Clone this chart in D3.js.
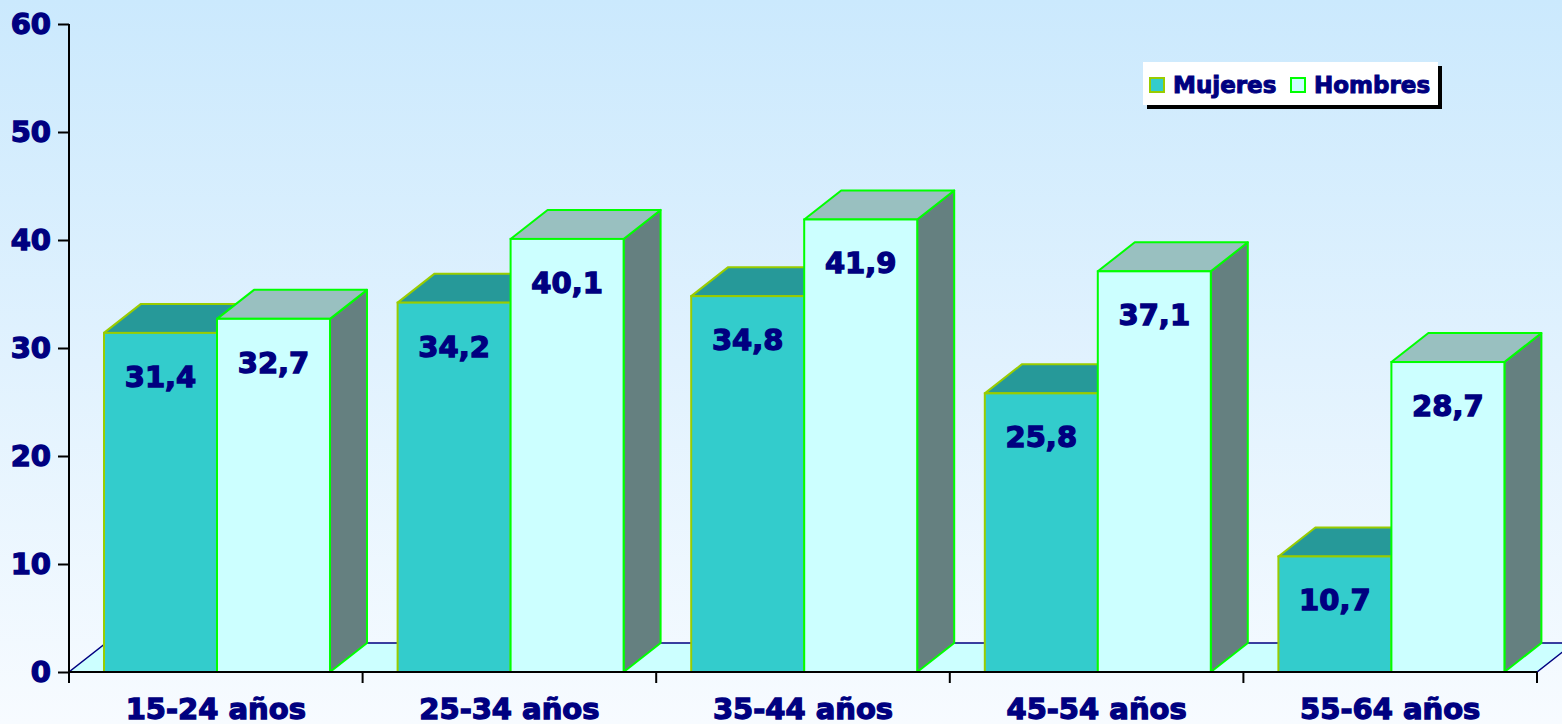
<!DOCTYPE html>
<html>
<head>
<meta charset="utf-8">
<script src="https://cdn.jsdelivr.net/npm/d3@7"></script>
<style>
  body { margin: 0; background: #fff; }
  svg { display: block; font-family: "DejaVu Sans", Verdana, sans-serif; font-weight: bold; }
  /* verdana bold is heavier than dejavu, so thicken the glyphs a little */
  .heavy { stroke: #000080; stroke-width: 1.3px; paint-order: fill stroke; }
</style>
</head>
<body>
<svg id="chart" width="1562" height="724">
  <defs>
    <linearGradient id="bg" x1="0" y1="0" x2="0" y2="1">
      <stop offset="0" stop-color="#cbe9fd"></stop>
      <stop offset="1" stop-color="#f7fbff"></stop>
    </linearGradient>
  </defs>
  <rect width="1562" height="724" fill="url(#bg)"></rect>
  <g id="floor"></g>
  <g id="bars"></g>
  <g id="labels"></g>
  <g id="axes"></g>
  <g id="legend"></g>
</svg>
<script>
// data
const categories = ['15-24 años', '25-34 años', '35-44 años', '45-54 años', '55-64 años'];
const series = ['Mujeres', 'Hombres'];
const mujeres = [31.4, 34.2, 34.8, 25.8, 10.7];
const hombres = [32.7, 40.1, 41.9, 37.1, 28.7];
const yTicks = [0, 10, 20, 30, 40, 50, 60];

const svg = d3.select('svg#chart');
const navy = '#000080';

// plot area (pixels)
const plot = {left: 69, right: 1537, top: 24, bottom: 672};
// 3d depth offset
const depth = {dx: 37, dy: -29};

// face colours for each series
const style = {
  Mujeres: {front: '#33cccc', top: '#269999', side: '#1f7a7a', stroke: '#99cc00'},
  Hombres: {front: '#ccffff', top: '#99c0c0', side: '#658080', stroke: '#00ff00'}
};

const y = d3.scaleLinear()
  .domain([0, 60])
  .range([plot.bottom, plot.top]);

const x = d3.scaleBand()
  .domain(categories)
  .range([plot.left, plot.right]);

// position of each series inside a category
const xs = d3.scaleBand()
  .domain(series)
  .range([35, 261]);

const rows = [];
categories.forEach((c, i) => {
  rows.push({cat: c, key: 'Mujeres', value: mujeres[i]});
  rows.push({cat: c, key: 'Hombres', value: hombres[i]});
});

drawFloor();
drawBars(rows);
drawLabels(rows);
drawAxes();
drawLegend();

function pts(list) {
  return list.map(p => p.join(',')).join(' ');
}

function drawFloor() {
  const x0 = plot.left, x1 = plot.right, y0 = plot.bottom;
  svg.select('g#floor').append('polygon')
    .attr('points', pts([[x0, y0], [x1, y0], [x1 + depth.dx, y0 + depth.dy], [x0 + depth.dx, y0 + depth.dy]]))
    .attr('fill', '#ccffff')
    .attr('stroke', navy)
    .attr('stroke-width', 1.5);
}

function drawBars(data) {
  const g = svg.select('g#bars').selectAll('g.bar')
    .data(data)
    .enter().append('g')
      .attr('class', 'bar');

  g.each(function(d) {
    const s = style[d.key];
    const x0 = x(d.cat) + xs(d.key);
    const x1 = x0 + xs.bandwidth();
    const y0 = y(0);
    const y1 = y(d.value);
    const el = d3.select(this);
    // side face
    el.append('polygon')
      .attr('points', pts([[x1, y1], [x1 + depth.dx, y1 + depth.dy], [x1 + depth.dx, y0 + depth.dy], [x1, y0]]))
      .attr('fill', s.side).attr('stroke', s.stroke).attr('stroke-width', 2)
      .attr('stroke-linejoin', 'round');
    // top face
    el.append('polygon')
      .attr('points', pts([[x0, y1], [x0 + depth.dx, y1 + depth.dy], [x1 + depth.dx, y1 + depth.dy], [x1, y1]]))
      .attr('fill', s.top).attr('stroke', s.stroke).attr('stroke-width', 2)
      .attr('stroke-linejoin', 'round');
    // front face
    el.append('rect')
      .attr('x', x0).attr('y', y1)
      .attr('width', x1 - x0).attr('height', y0 - y1)
      .attr('fill', s.front).attr('stroke', s.stroke).attr('stroke-width', 2);
  });
}

function drawLabels(data) {
  svg.select('g#labels').selectAll('text')
    .data(data)
    .enter().append('text')
      .attr('class', 'heavy')
      .attr('x', d => x(d.cat) + xs(d.key) + xs.bandwidth() / 2)
      .attr('y', d => y(d.value) + 54)
      .attr('text-anchor', 'middle')
      .attr('fill', navy)
      .style('font-size', '29px')
      .text(d => d3.format('.1f')(d.value).replace('.', ','));
}

function drawAxes() {
  const axes = svg.select('g#axes');

  const yAxis = axes.append('g')
    .attr('transform', `translate(${plot.left},0)`)
    .call(d3.axisLeft(y).tickValues(yTicks).tickSize(11).tickPadding(7));
  yAxis.select('.domain').attr('stroke', '#000').attr('stroke-width', 2).attr('d', `M0,${plot.top}V${plot.bottom}`);
  yAxis.selectAll('.tick line').attr('stroke', '#000').attr('stroke-width', 2);
  yAxis.selectAll('.tick text')
    .attr('class', 'heavy')
    .attr('fill', navy)
    .style('font-size', '29px')
    .style('font-family', '"DejaVu Sans", Verdana, sans-serif')
    .style('font-weight', 'bold');

  const xAxis = axes.append('g')
    .attr('transform', `translate(0,${plot.bottom})`)
    .call(d3.axisBottom(x).tickSize(0).tickPadding(26));
  xAxis.select('.domain').attr('stroke', '#000').attr('stroke-width', 2).attr('d', `M${plot.left},0H${plot.right}`);
  xAxis.selectAll('.tick text')
    .attr('class', 'heavy')
    .attr('fill', navy)
    .style('font-size', '29px')
    .style('font-family', '"DejaVu Sans", Verdana, sans-serif')
    .style('font-weight', 'bold');

  // ticks on the category boundaries
  const bounds = categories.map(c => x(c)).concat([plot.right]);
  xAxis.selectAll('line.bound')
    .data(bounds)
    .enter().append('line')
      .attr('class', 'bound')
      .attr('x1', d => d).attr('x2', d => d)
      .attr('y1', 0).attr('y2', 11)
      .attr('stroke', '#000')
      .attr('stroke-width', 2);
}

function drawLegend() {
  const lg = svg.select('g#legend');
  const box = {x: 1143, y: 62, width: 295, height: 43};

  lg.append('rect')
    .attr('x', box.x + 4).attr('y', box.y + 4)
    .attr('width', box.width).attr('height', box.height)
    .attr('fill', '#000');
  lg.append('rect')
    .attr('x', box.x).attr('y', box.y)
    .attr('width', box.width).attr('height', box.height)
    .attr('fill', '#fff');

  const offsets = [6, 147];
  const item = lg.selectAll('g.item')
    .data(series)
    .enter().append('g')
      .attr('class', 'item')
      .attr('transform', (d, i) => `translate(${box.x + offsets[i]},${box.y})`);

  item.append('rect')
    .attr('x', 1).attr('y', 16)
    .attr('width', 14).attr('height', 14)
    .attr('fill', d => style[d].front)
    .attr('stroke', d => style[d].stroke)
    .attr('stroke-width', 2);

  item.append('text')
    .attr('class', 'heavy')
    .attr('x', 24).attr('y', 31)
    .attr('fill', navy)
    .style('font-size', '23px')
    .style('stroke-width', '1px')
    .text(d => d);
}
</script>
</body>
</html>
